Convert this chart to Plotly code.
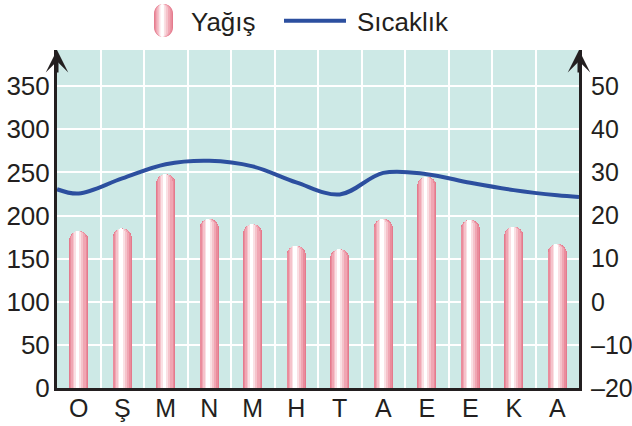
import plotly.graph_objects as go

# ---- data ----
months = ["O", "Ş", "M", "N", "M", "H", "T", "A", "E", "E", "K", "A"]
month_pos = list(range(12))
rain = [182, 185, 248, 196, 190, 165, 161, 196, 245, 195, 187, 167]
# temperature (edge readings at the axis borders included)
temp_pos = [-0.5, 0, 1, 2, 3, 4, 5, 6, 7, 8, 9, 10, 11, 11.5]
temp = [26.1, 25.1, 28.6, 31.9, 32.7, 31.4, 27.7, 24.9, 29.9, 29.6, 27.6, 25.9, 24.7, 24.3]
left_ticks = [0, 50, 100, 150, 200, 250, 300, 350]
right_ticks = [-20, -10, 0, 10, 20, 30, 40, 50]
right_labels = ["–20", "–10", "0", "10", "20", "30", "40", "50"]

# ---- style ----
W, H = 632, 426
ML, MR, MT, MB = 57, 53, 50, 38
PW, PH = W - ML - MR, H - MT - MB
FONT = "Liberation Sans, Arial, Helvetica, sans-serif"
TXT = "#231f20"
BG = "#cde9e6"
BLUE = "#2c4f9f"
BAR_W = 0.44
# stripe layers: (left fraction, right fraction, colour)
layers = [
    (0.00, 1.00, "#e47a8d"),
    (0.04, 0.95, "#ea8c9c"),
    (0.10, 0.86, "#f0a6b3"),
    (0.18, 0.74, "#f5c3cb"),
    (0.26, 0.62, "#fae0e4"),
    (0.34, 0.52, "#ffffff"),
]

fig = go.Figure()

for a, b, col in layers:
    fig.add_trace(go.Bar(
        x=month_pos, y=rain,
        width=BAR_W * (b - a), offset=-BAR_W / 2 + BAR_W * a,
        marker=dict(color=col, line=dict(width=0), cornerradius="50%"),
        showlegend=False, hoverinfo="skip",
    ))

fig.add_trace(go.Scatter(
    x=temp_pos, y=temp, yaxis="y2", mode="lines",
    line=dict(color=BLUE, width=4, shape="spline", smoothing=1.0),
    showlegend=False, hoverinfo="skip",
))

yr = [0, 392]
y2r = [yr[0] / 5 - 20, yr[1] / 5 - 20]

fig.update_layout(
    width=W, height=H,
    margin=dict(l=ML, r=MR, t=MT, b=MB, pad=0, autoexpand=False),
    paper_bgcolor="white", plot_bgcolor=BG,
    barmode="overlay", bargap=0,
    font=dict(family=FONT, color=TXT),
    showlegend=False,
    xaxis=dict(
        range=[-0.5, 11.5], tickmode="array", tickvals=month_pos, ticktext=months,
        showgrid=False, zeroline=False, showline=True, linecolor=TXT, linewidth=3,
        ticks="", automargin=False, ticklabelstandoff=-4,
        tickfont=dict(size=25, family=FONT, color=TXT),
        minor=dict(tick0=0.5, dtick=1, showgrid=True, gridcolor="white", gridwidth=2, ticks=""),
        fixedrange=True,
    ),
    yaxis=dict(
        range=yr, tickmode="array", tickvals=left_ticks,
        showgrid=True, gridcolor="white", gridwidth=2, zeroline=False,
        showline=True, linecolor=TXT, linewidth=3, ticks="", automargin=False,
        ticklabelstandoff=-1, fixedrange=True,
        tickfont=dict(size=26, family=FONT, color=TXT),
    ),
    yaxis2=dict(
        range=y2r, overlaying="y", side="right", tickmode="array",
        tickvals=right_ticks, ticktext=right_labels,
        showgrid=False, zeroline=False, showline=True, linecolor=TXT, linewidth=3,
        ticks="", ticklabelstandoff=4, automargin=False, fixedrange=True,
        tickfont=dict(size=25, family=FONT, color=TXT),
    ),
)

# arrowheads on top of both vertical axes
for xp in (0, 1):
    fig.add_annotation(
        x=xp, y=1, xref="paper", yref="paper", ax=0, ay=24, axref="pixel", ayref="pixel",
        text="", showarrow=True, arrowhead=3, arrowsize=1.25, arrowwidth=3, arrowcolor=TXT,
    )

# ---- custom legend ----
def px_x(px):
    return (px - ML) / PW

def px_y(py):
    return (H - MB - py) / PH

def stadium(x0, x1, h):
    r = (x1 - x0) / 2.0
    k = 0.5523 * r
    t, b = h / 2.0, -h / 2.0
    return (f"M{x0},{b + r} L{x0},{t - r} "
            f"C{x0},{t - r + k} {x0 + r - k},{t} {x0 + r},{t} "
            f"C{x0 + r + k},{t} {x1},{t - r + k} {x1},{t - r} "
            f"L{x1},{b + r} "
            f"C{x1},{b + r - k} {x0 + r + k},{b} {x0 + r},{b} "
            f"C{x0 + r - k},{b} {x0},{b + r - k} {x0},{b + r} Z")

icon_w, icon_h = 19, 33
for a, b, col in layers:
    fig.add_shape(
        type="path", xref="paper", yref="paper",
        xsizemode="pixel", ysizemode="pixel",
        xanchor=px_x(163.5), yanchor=px_y(20.5),
        path=stadium(-icon_w / 2 + icon_w * a, -icon_w / 2 + icon_w * b, icon_h),
        fillcolor=col, line=dict(width=0), layer="above",
    )

fig.add_annotation(x=px_x(189), y=px_y(22), xref="paper", yref="paper",
                   text="Yağış", showarrow=False, xanchor="left", yanchor="middle",
                   font=dict(size=26, family=FONT, color=TXT))
fig.add_shape(type="line", xref="paper", yref="paper",
              x0=px_x(284), x1=px_x(346), y0=px_y(20.7), y1=px_y(20.7),
              line=dict(color=BLUE, width=4))
fig.add_annotation(x=px_x(355), y=px_y(22), xref="paper", yref="paper",
                   text="Sıcaklık", showarrow=False, xanchor="left", yanchor="middle",
                   font=dict(size=26, family=FONT, color=TXT))

fig.write_html(
    "out.html",
    config={"displayModeBar": False, "staticPlot": True},
    post_script="document.body.style.margin='0';document.body.style.overflow='hidden';",
)
